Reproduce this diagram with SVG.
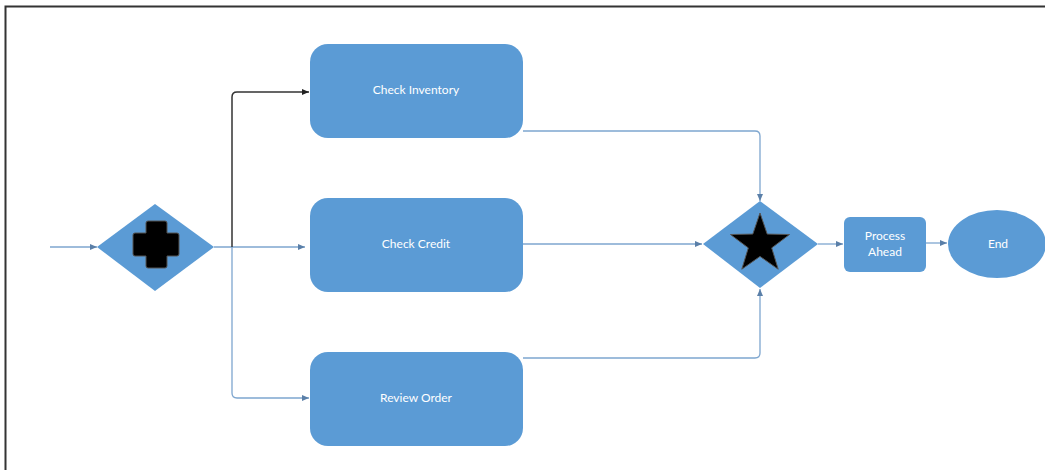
<svg xmlns="http://www.w3.org/2000/svg" width="1045" height="470" viewBox="0 0 1045 470">
<style>
.shape{fill:#5b9bd5;}
.lbl{fill:#ffffff;font-family:Lato,"Open Sans",sans-serif;font-size:12px;text-anchor:middle;}
.conn{fill:none;stroke:#7ea6cf;stroke-width:1.3;}
.dark{fill:none;stroke:#333333;stroke-width:1.5;}
</style>
<defs>
<marker id="ab" markerWidth="8" markerHeight="8" refX="7" refY="4" orient="auto" markerUnits="userSpaceOnUse">
<path d="M0,1 L7,4 L0,7 Z" fill="#5a7fa8"/>
</marker>
<marker id="ak" markerWidth="8" markerHeight="8" refX="7" refY="4" orient="auto" markerUnits="userSpaceOnUse">
<path d="M0,1 L7,4 L0,7 Z" fill="#222222"/>
</marker>
</defs>
<rect x="0" y="0" width="1045" height="470" fill="#ffffff"/>
<path d="M5.5,470 V6.5 H1045" fill="none" stroke="#333333" stroke-width="2"/>
<g id="connectors">
<path class="conn" d="M50,247 H97" marker-end="url(#ab)"/>
<path class="conn" d="M214,247 H305" marker-end="url(#ab)"/>
<path class="dark" d="M232,247 V97 Q232,92 237,92 H309" marker-end="url(#ak)"/>
<path class="conn" d="M232,247 V393 Q232,398 237,398 H309" marker-end="url(#ab)"/>
<path class="conn" d="M523,131 H755 Q760,131 760,136 V201" marker-end="url(#ab)"/>
<path class="conn" d="M523,244 H702" marker-end="url(#ab)"/>
<path class="conn" d="M523,358 H755 Q760,358 760,353 V289" marker-end="url(#ab)"/>
<path class="conn" d="M818,244 H843" marker-end="url(#ab)"/>
<path class="conn" d="M926,243 H947" marker-end="url(#ab)"/>
</g>
<g id="gateway-parallel">
<polygon class="shape" points="155,204 214,247 155,291 97,247"/>
<path d="M148,221 H165 Q167,221 167,223 V233 H177 Q179,233 179,235 V254 Q179,256 177,256 H167 V266 Q167,268 165,268 H148 Q146,268 146,266 V256 H135 Q133,256 133,254 V235 Q133,233 135,233 H146 V223 Q146,221 148,221 Z" fill="#000000" stroke="#555555" stroke-width="1"/>
</g>
<g id="check-inventory">
<rect class="shape" x="310" y="44" width="213" height="94" rx="18"/>
<text class="lbl" x="416" y="94">Check Inventory</text>
</g>
<g id="check-credit">
<rect class="shape" x="310" y="198" width="213" height="94" rx="18"/>
<text class="lbl" x="416" y="248">Check Credit</text>
</g>
<g id="review-order">
<rect class="shape" x="310" y="352" width="213" height="94" rx="18"/>
<text class="lbl" x="416" y="402">Review Order</text>
</g>
<g id="gateway-complex">
<polygon class="shape" points="760,201 818,244 760,288 703,244"/>
<polygon points="760,213 767.2,234.1 789.5,234.5 771.7,247.9 778.2,269.2 760,256.4 741.8,269.2 748.3,247.9 730.5,234.5 752.8,234.1" fill="#000000" stroke="#555555" stroke-width="1"/>
</g>
<g id="process-ahead">
<rect class="shape" x="844" y="217" width="82" height="55" rx="6"/>
<text class="lbl" x="885" y="240">Process</text>
<text class="lbl" x="885" y="256">Ahead</text>
</g>
<g id="end">
<ellipse class="shape" cx="997" cy="244" rx="49" ry="34"/>
<text class="lbl" x="998" y="248">End</text>
</g>
</svg>
